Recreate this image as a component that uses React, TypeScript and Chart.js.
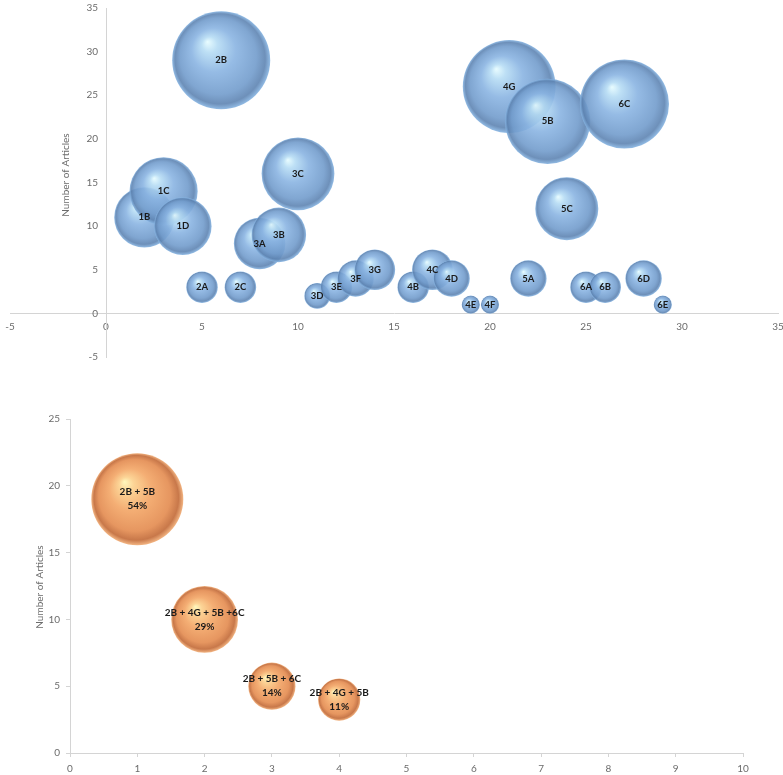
import React, { useEffect, useRef } from 'react';
import { Chart, registerables } from 'chart.js';

Chart.register(...registerables);

// ---- Top chart data ----
const topLabels = ['1B', '1C', '1D', '2A', '2B', '2C', '3A', '3B', '3C', '3D', '3E', '3F', '3G', '4B', '4C', '4D', '4E', '4F', '4G', '5A', '5B', '5C', '6A', '6B', '6C', '6D', '6E'];
const topX = [2, 3, 4, 5, 6, 7, 8, 9, 10, 11, 12, 13, 14, 16, 17, 18, 19, 20, 21, 22, 23, 24, 25, 26, 27, 28, 29];
const topY = [11, 14, 10, 3, 29, 3, 8, 9, 16, 2, 3, 4, 5, 3, 5, 4, 1, 1, 26, 4, 22, 12, 3, 3, 24, 4, 1];
const topSizes = [11, 14, 10, 3, 29, 3, 8, 9, 16, 2, 3, 4, 5, 3, 5, 4, 1, 1, 26, 4, 22, 12, 3, 3, 24, 4, 1];

// ---- Bottom chart data ----
const bottomLabels = ['2B + 5B', '2B + 4G + 5B +6C', '2B + 5B + 6C', '2B + 4G + 5B'];
const bottomPercents = ['54%', '29%', '14%', '11%'];
const bottomX = [1, 2, 3, 4];
const bottomY = [19, 10, 5, 4];
const bottomSizes = [19, 10, 5, 4];

const TEXT = '#6b6b6b';
const AXIS = '#d4d4d4';
const FONT = 'Lato, "Open Sans", sans-serif';

const blueStops: [number, string][] = [
  [0, 'rgba(230,252,255,0.9)'],
  [0.16, 'rgba(182,220,244,0.9)'],
  [0.45, 'rgba(138,180,226,0.9)'],
  [0.78, 'rgba(114,156,204,0.9)'],
  [0.92, 'rgba(94,132,178,0.9)'],
  [1, 'rgba(134,180,226,0.9)'],
];
const orangeStops: [number, string][] = [
  [0, 'rgba(255,248,190,1)'],
  [0.16, 'rgba(252,212,150,1)'],
  [0.45, 'rgba(244,174,116,1)'],
  [0.78, 'rgba(230,150,96,1)'],
  [0.92, 'rgba(200,120,74,1)'],
  [1, 'rgba(242,180,130,1)'],
];

function sphereFill(stops: [number, string][]) {
  return (ctx: any) => {
    if (ctx.type !== 'data' || !ctx.parsed) return stops[2][1];
    const chart = ctx.chart;
    const px = chart.scales.x.getPixelForValue(ctx.parsed.x);
    const py = chart.scales.y.getPixelForValue(ctx.parsed.y);
    const r = ctx.raw && ctx.raw.r ? ctx.raw.r : 10;
    if (!isFinite(px) || !isFinite(py)) return stops[2][1];
    const g = chart.ctx.createRadialGradient(px - r * 0.28, py - r * 0.38, 0, px, py, r);
    stops.forEach(([o, c]) => g.addColorStop(o, c));
    return g;
  };
}

const labelPlugin = (lines: string[][], fontSize: number, lineH: number) => ({
  id: 'bubbleLabels',
  afterDatasetsDraw(chart: any) {
    const meta = chart.getDatasetMeta(0);
    const c = chart.ctx;
    c.save();
    c.font = `bold ${fontSize}px ${FONT}`;
    c.fillStyle = '#1a1a1a';
    c.textAlign = 'center';
    c.textBaseline = 'middle';
    meta.data.forEach((el: any, i: number) => {
      const ls = lines[i];
      const start = el.y - ((ls.length - 1) * lineH) / 2;
      ls.forEach((t, j) => c.fillText(t, el.x, start + j * lineH));
    });
    c.restore();
  },
});

const titlePlugin = (x: number, y: number) => ({
  id: 'yTitle',
  afterDraw(chart: any) {
    const c = chart.ctx;
    c.save();
    c.translate(x, y);
    c.rotate(-Math.PI / 2);
    c.font = `10px ${FONT}`;
    c.fillStyle = TEXT;
    c.textAlign = 'center';
    c.textBaseline = 'middle';
    c.fillText('Number of Articles', 0, 0);
    c.restore();
  },
});

// Draws the y tick labels of an axis that sits at x = 0, with a gap from the axis line
const crossedYTicksPlugin = {
  id: 'crossedYTicks',
  afterDraw(chart: any) {
    const ys = chart.scales.y;
    const xs = chart.scales.x;
    const ax = xs.getPixelForValue(0);
    const c = chart.ctx;
    c.save();
    c.font = `10px ${FONT}`;
    c.fillStyle = TEXT;
    c.textAlign = 'right';
    c.textBaseline = 'middle';
    ys.ticks.forEach((t: any) => {
      c.fillText(String(t.value), ax - 8, ys.getPixelForValue(t.value));
    });
    c.restore();
  },
};

const noPad = (s: any) => {
  s.paddingLeft = 0;
  s.paddingRight = 0;
  s.paddingTop = 0;
  s.paddingBottom = 0;
};

function TopChart() {
  const ref = useRef<HTMLCanvasElement>(null);
  useEffect(() => {
    const k = 9.1;
    const data = topX.map((x, i) => ({ x, y: topY[i], r: k * Math.sqrt(topSizes[i]) }));
    const chart = new Chart(ref.current!, {
      type: 'bubble',
      data: {
        datasets: [
          {
            data,
            backgroundColor: sphereFill(blueStops) as any,
            borderWidth: 0,
            clip: false as any,
          },
        ],
      },
      options: {
        responsive: false,
        animation: false,
        events: [],
        layout: { autoPadding: false, padding: { left: 10, right: 5, top: 8, bottom: 15 } },
        plugins: { legend: { display: false }, tooltip: { enabled: false } },
        scales: {
          x: {
            type: 'linear',
            min: -5,
            max: 35,
            position: { y: 0 } as any,
            grid: { display: false, drawTicks: false },
            border: { color: AXIS, width: 1 },
            ticks: { stepSize: 5, color: TEXT, font: { family: FONT, size: 10 }, padding: 7, maxRotation: 0 },
            afterFit: noPad,
          },
          y: {
            type: 'linear',
            min: -5,
            max: 35,
            position: { x: 0 } as any,
            grid: { display: false, drawTicks: false },
            border: { color: AXIS, width: 1 },
            ticks: { stepSize: 5, display: false },
            afterFit: noPad,
          },
        },
      },
      plugins: [labelPlugin(topLabels.map((l) => [l]), 9.5, 12), titlePlugin(66, 175), crossedYTicksPlugin],
    });
    return () => chart.destroy();
  }, []);
  return <canvas ref={ref} width={783} height={372} style={{ position: 'absolute', left: 0, top: 0 }} />;
}

function BottomChart() {
  const ref = useRef<HTMLCanvasElement>(null);
  useEffect(() => {
    const k = 10.55;
    const data = bottomX.map((x, i) => ({ x, y: bottomY[i], r: k * Math.sqrt(bottomSizes[i]) }));
    const chart = new Chart(ref.current!, {
      type: 'bubble',
      data: {
        datasets: [
          {
            data,
            backgroundColor: sphereFill(orangeStops) as any,
            borderWidth: 0,
            clip: false as any,
          },
        ],
      },
      options: {
        responsive: false,
        animation: false,
        events: [],
        layout: { autoPadding: false, padding: { left: 0, right: 40, top: 19, bottom: 0 } },
        plugins: { legend: { display: false }, tooltip: { enabled: false } },
        scales: {
          x: {
            type: 'linear',
            min: 0,
            max: 10,
            position: 'bottom',
            grid: { drawOnChartArea: false, drawTicks: true, tickLength: 4, color: AXIS },
            border: { color: AXIS, width: 1 },
            ticks: { stepSize: 1, color: TEXT, font: { family: FONT, size: 10 }, padding: 6, maxRotation: 0 },
            afterFit: (s: any) => {
              s.height = 32;
            },
          },
          y: {
            type: 'linear',
            min: 0,
            max: 25,
            position: 'left',
            grid: { drawOnChartArea: false, drawTicks: true, tickLength: 4, color: AXIS },
            border: { color: AXIS, width: 1 },
            ticks: { stepSize: 5, color: TEXT, font: { family: FONT, size: 10 }, padding: 6 },
            afterFit: (s: any) => {
              s.width = 70;
            },
          },
        },
      },
      plugins: [labelPlugin(bottomLabels.map((l, i) => [l, bottomPercents[i]]), 10, 14), titlePlugin(40, 187)],
    });
    return () => chart.destroy();
  }, []);
  return <canvas ref={ref} width={783} height={385} style={{ position: 'absolute', left: 0, top: 400 }} />;
}

export default function App() {
  return (
    <div style={{ position: 'fixed', left: 0, top: 0, width: 783, height: 775, overflow: 'hidden', background: '#fff' }}>
      <TopChart />
      <BottomChart />
    </div>
  );
}
